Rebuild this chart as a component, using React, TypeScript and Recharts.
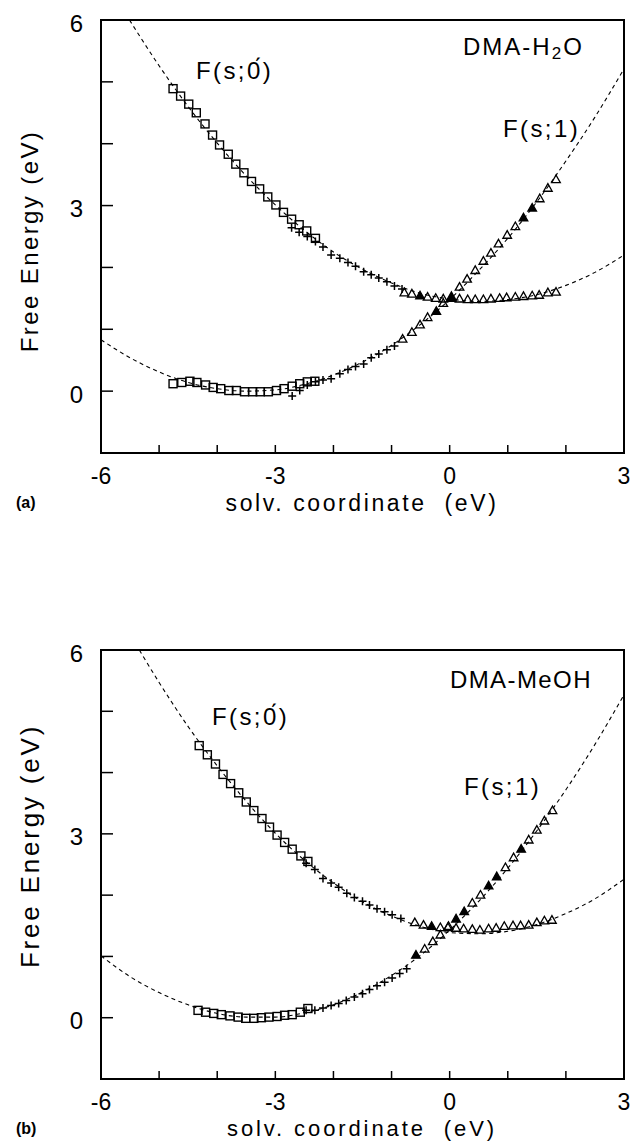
import React from 'react';
import { ComposedChart, Line, Scatter, XAxis, YAxis, ReferenceArea } from 'recharts';

type Pt = [number, number];

// ---- panel (a): DMA-H2O ----
const aCurve0: Pt[] = [
  [-5.51, 6.0], [-5.0, 5.26], [-4.5, 4.6], [-4.0, 4.01], [-3.5, 3.48], [-3.0, 3.01], [-2.5, 2.6],
  [-2.0, 2.25], [-1.5, 1.97], [-1.0, 1.75], [-0.5, 1.58], [0.0, 1.49], [0.5, 1.45], [1.0, 1.48],
  [1.5, 1.56], [2.0, 1.71], [2.5, 1.92], [3.0, 2.2],
];
const aCurve1: Pt[] = [
  [-6.0, 0.83], [-5.5, 0.54], [-5.0, 0.31], [-4.5, 0.14], [-4.0, 0.04], [-3.5, 0.0], [-3.0, 0.02],
  [-2.5, 0.11], [-2.0, 0.26], [-1.5, 0.47], [-1.0, 0.74], [-0.5, 1.08], [0.0, 1.48], [0.5, 1.95],
  [1.0, 2.47], [1.5, 3.06], [2.0, 3.72], [2.5, 4.43], [3.0, 5.21],
];
const aUpperSquares: Pt[] = [
  [-4.76, 4.89], [-4.63, 4.77], [-4.49, 4.64], [-4.36, 4.5], [-4.21, 4.32], [-4.08, 4.14], [-3.96, 3.98],
  [-3.81, 3.83], [-3.68, 3.67], [-3.54, 3.53], [-3.41, 3.39], [-3.27, 3.27], [-3.13, 3.14], [-2.99, 3.01],
  [-2.86, 2.89], [-2.72, 2.78], [-2.59, 2.69], [-2.46, 2.59], [-2.31, 2.47],
];
const aUpperCrosses: Pt[] = [
  [-2.72, 2.64], [-2.59, 2.57], [-2.45, 2.5], [-2.31, 2.42], [-2.18, 2.33], [-2.04, 2.2], [-1.89, 2.15],
  [-1.75, 2.08], [-1.62, 2.02], [-1.48, 1.93], [-1.35, 1.88], [-1.22, 1.83], [-1.08, 1.77], [-0.95, 1.7],
  [-0.82, 1.65],
];
const aUpperTri: Pt[] = [
  [-0.78, 1.59], [-0.65, 1.57], [-0.38, 1.52], [-0.24, 1.5], [-0.11, 1.49], [0.17, 1.49], [0.31, 1.48],
  [0.44, 1.48], [0.58, 1.48], [0.71, 1.49], [0.86, 1.5], [0.98, 1.51], [1.13, 1.52], [1.27, 1.53],
  [1.42, 1.54], [1.54, 1.55], [1.69, 1.59], [1.83, 1.6],
];
const aUpperTriFilled: Pt[] = [[-0.51, 1.54], [0.03, 1.5]];
const aRisingTri: Pt[] = [
  [-0.81, 0.84], [-0.65, 0.95], [-0.51, 1.07], [-0.38, 1.19], [-0.11, 1.42], [0.17, 1.68], [0.3, 1.81],
  [0.44, 1.95], [0.58, 2.1], [0.71, 2.23], [0.84, 2.38], [0.99, 2.52], [1.13, 2.66], [1.55, 3.11],
  [1.69, 3.28], [1.83, 3.42],
];
const aRisingTriFilled: Pt[] = [[-0.23, 1.29], [0.03, 1.53], [1.27, 2.8], [1.42, 2.96]];
const aLowerSquares: Pt[] = [
  [-4.76, 0.12], [-4.61, 0.14], [-4.47, 0.16], [-4.35, 0.14], [-4.2, 0.1], [-4.07, 0.06], [-3.94, 0.04],
  [-3.8, 0.01], [-3.67, 0.01], [-3.53, -0.01], [-3.39, -0.01], [-3.26, -0.01], [-3.12, -0.01], [-2.98, 0.01],
  [-2.85, 0.04], [-2.71, 0.08], [-2.58, 0.12], [-2.45, 0.15], [-2.32, 0.16],
];
const aLowerCrosses: Pt[] = [
  [-2.71, -0.08], [-2.58, 0.01], [-2.45, 0.1], [-2.31, 0.15], [-2.18, 0.18], [-2.04, 0.2], [-1.89, 0.28],
  [-1.75, 0.35], [-1.62, 0.4], [-1.48, 0.44], [-1.35, 0.54], [-1.22, 0.6], [-1.08, 0.67], [-0.95, 0.73],
];

// ---- panel (b): DMA-MeOH ----
const bCurve0: Pt[] = [
  [-5.34, 6.0], [-5.0, 5.47], [-4.5, 4.75], [-4.0, 4.11], [-3.5, 3.53], [-3.0, 3.01], [-2.5, 2.57],
  [-2.0, 2.2], [-1.5, 1.89], [-1.0, 1.66], [-0.5, 1.49], [0.0, 1.39], [0.5, 1.37], [1.0, 1.41],
  [1.5, 1.52], [2.0, 1.7], [2.5, 1.94], [3.0, 2.26],
];
const bCurve1: Pt[] = [
  [-6.0, 1.01], [-5.5, 0.67], [-5.0, 0.41], [-4.5, 0.21], [-4.0, 0.07], [-3.5, 0.01], [-3.0, 0.01],
  [-2.5, 0.08], [-2.0, 0.21], [-1.5, 0.42], [-1.0, 0.69], [-0.5, 1.02], [0.0, 1.43], [0.5, 1.9],
  [1.0, 2.44], [1.5, 3.05], [2.0, 3.72], [2.5, 4.46], [3.0, 5.27],
];
const bUpperSquares: Pt[] = [
  [-4.31, 4.44], [-4.17, 4.29], [-4.03, 4.14], [-3.9, 3.97], [-3.77, 3.82], [-3.63, 3.67], [-3.5, 3.52],
  [-3.37, 3.38], [-3.23, 3.25], [-3.1, 3.11], [-2.97, 2.98], [-2.84, 2.86], [-2.71, 2.75], [-2.56, 2.64],
  [-2.44, 2.55],
];
const bUpperCrosses: Pt[] = [
  [-2.47, 2.52], [-2.32, 2.42], [-2.18, 2.27], [-2.04, 2.2], [-1.91, 2.13], [-1.77, 2.03], [-1.64, 1.96],
  [-1.5, 1.9], [-1.38, 1.84], [-1.25, 1.78], [-1.12, 1.73], [-0.99, 1.68], [-0.84, 1.62],
];
const bUpperTri: Pt[] = [
  [-0.6, 1.55], [-0.45, 1.51], [-0.16, 1.47], [-0.03, 1.47], [0.11, 1.46], [0.24, 1.45], [0.39, 1.44],
  [0.52, 1.43], [0.67, 1.45], [0.8, 1.46], [0.94, 1.49], [1.09, 1.5], [1.22, 1.5], [1.36, 1.51],
  [1.5, 1.55], [1.63, 1.58], [1.76, 1.59],
];
const bUpperTriFilled: Pt[] = [[-0.31, 1.49]];
const bRisingTri: Pt[] = [
  [-0.43, 1.12], [-0.29, 1.24], [-0.16, 1.35], [-0.02, 1.49], [0.39, 1.87], [0.53, 2.0], [0.96, 2.45],
  [1.1, 2.61], [1.36, 2.9], [1.5, 3.06], [1.63, 3.21], [1.77, 3.38],
];
const bRisingTriFilled: Pt[] = [[-0.58, 1.02], [0.11, 1.61], [0.25, 1.73], [0.67, 2.15], [0.81, 2.3], [1.23, 2.75]];
const bLowerSquares: Pt[] = [
  [-4.33, 0.12], [-4.2, 0.09], [-4.06, 0.07], [-3.93, 0.05], [-3.78, 0.03], [-3.64, 0.01], [-3.51, -0.01],
  [-3.37, -0.01], [-3.24, 0.0], [-3.11, 0.01], [-2.97, 0.02], [-2.84, 0.04], [-2.71, 0.05], [-2.57, 0.09],
  [-2.44, 0.15],
];
const bLowerCrosses: Pt[] = [
  [-2.47, 0.12], [-2.32, 0.12], [-2.18, 0.16], [-2.04, 0.2], [-1.91, 0.23], [-1.78, 0.28], [-1.64, 0.34],
  [-1.5, 0.39], [-1.38, 0.46], [-1.25, 0.52], [-1.12, 0.58], [-0.99, 0.65], [-0.86, 0.72], [-0.74, 0.8],
];

// ---- axes ----
const xTicks = [-6, -5, -4, -3, -2, -1, 0, 1, 2, 3];
const xTickLabels = [-6, -3, 0, 3];
const yTicks = [-1, 0, 1, 2, 3, 4, 5, 6];
const yTickLabels = [0, 3, 6];

const FONT = '"Liberation Sans", Arial, sans-serif';
const toObj = (pts: Pt[]) => pts.map(([x, y]) => ({ x, y }));

const XTick = (props: any) => {
  const { x, y, payload } = props;
  const v = payload.value;
  return (
    <g>
      <line x1={x} x2={x} y1={y} y2={y - 8} stroke="#000" strokeWidth={1.5} />
      {xTickLabels.includes(v) && (
        <text x={x} y={y + 23} textAnchor="middle" dominantBaseline="central" fontSize={23} fontFamily={FONT} fill="#000">
          {v < 0 ? `-${Math.abs(v)}` : v}
        </text>
      )}
    </g>
  );
};

const YTick = (props: any) => {
  const { x, y, payload } = props;
  const v = payload.value;
  return (
    <g>
      <line x1={x} x2={x + 12} y1={y} y2={y} stroke="#000" strokeWidth={1.5} />
      {yTickLabels.includes(v) && (
        <text x={x - 18} y={y + 3} textAnchor="end" dominantBaseline="central" fontSize={24} fontFamily={FONT} fill="#000">
          {v}
        </text>
      )}
    </g>
  );
};

const Square = (p: any) => (
  <rect x={p.cx - 4} y={p.cy - 4} width={8} height={8} fill="none" stroke="#000" strokeWidth={1.4} />
);
const Cross = (p: any) => (
  <path d={`M${p.cx - 4},${p.cy}H${p.cx + 4}M${p.cx},${p.cy - 4}V${p.cy + 4}`} stroke="#000" strokeWidth={1.5} />
);
const triPath = (cx: number, cy: number) => `M${cx},${cy - 4.6}L${cx + 4.3},${cy + 3}L${cx - 4.3},${cy + 3}Z`;
const TriOpen = (p: any) => <path d={triPath(p.cx, p.cy)} fill="none" stroke="#000" strokeWidth={1.3} />;
const TriFilled = (p: any) => <path d={triPath(p.cx, p.cy)} fill="#000" stroke="#000" strokeWidth={1.3} />;

interface PanelData {
  curve0: Pt[];
  curve1: Pt[];
  upperSquares: Pt[];
  upperCrosses: Pt[];
  upperTri: Pt[];
  upperTriFilled: Pt[];
  risingTri: Pt[];
  risingTriFilled: Pt[];
  lowerSquares: Pt[];
  lowerCrosses: Pt[];
}

function Panel({ d, height, marginBottom }: { d: PanelData; height: number; marginBottom: number }) {
  const series: [Pt[], (p: any) => React.ReactElement][] = [
    [d.upperSquares, Square],
    [d.lowerSquares, Square],
    [d.upperCrosses, Cross],
    [d.lowerCrosses, Cross],
    [d.upperTri, TriOpen],
    [d.risingTri, TriOpen],
    [d.upperTriFilled, TriFilled],
    [d.risingTriFilled, TriFilled],
  ];
  return (
    <ComposedChart width={635} height={height} margin={{ top: 20, right: 11, bottom: marginBottom, left: 41 }}>
      <XAxis
        type="number"
        dataKey="x"
        domain={[-6, 3]}
        ticks={xTicks}
        interval={0}
        allowDataOverflow
        height={60}
        axisLine={false}
        tickLine={false}
        tickSize={0}
        tickMargin={0}
        tick={<XTick />}
      />
      <YAxis
        type="number"
        dataKey="y"
        domain={[-1, 6]}
        ticks={yTicks}
        interval={0}
        allowDataOverflow
        width={60}
        axisLine={false}
        tickLine={false}
        tickSize={0}
        tickMargin={0}
        tick={<YTick />}
      />
      <ReferenceArea x1={-6} x2={3} y1={-1} y2={6} fill="none" stroke="#000" strokeWidth={2} ifOverflow="visible" />
      {[d.curve0, d.curve1].map((c, i) => (
        <Line
          key={`c${i}`}
          data={toObj(c)}
          dataKey="y"
          type="monotone"
          stroke="#000"
          strokeWidth={1.1}
          strokeDasharray="4 3.5"
          dot={false}
          activeDot={false}
          isAnimationActive={false}
        />
      ))}
      {series.map(([pts, shape], i) => (
        <Scatter key={`s${i}`} data={toObj(pts)} dataKey="y" shape={shape} isAnimationActive={false} />
      ))}
    </ComposedChart>
  );
}

const abs = (left: number, top: number, extra: React.CSSProperties = {}): React.CSSProperties => ({
  position: 'absolute',
  left,
  top,
  fontFamily: FONT,
  color: '#000',
  whiteSpace: 'nowrap',
  lineHeight: 1,
  ...extra,
});

const F0 = 'F(s;0\u0301)';

export default function App() {
  const panelA: PanelData = {
    curve0: aCurve0, curve1: aCurve1, upperSquares: aUpperSquares, upperCrosses: aUpperCrosses,
    upperTri: aUpperTri, upperTriFilled: aUpperTriFilled, risingTri: aRisingTri, risingTriFilled: aRisingTriFilled,
    lowerSquares: aLowerSquares, lowerCrosses: aLowerCrosses,
  };
  const panelB: PanelData = {
    curve0: bCurve0, curve1: bCurve1, upperSquares: bUpperSquares, upperCrosses: bUpperCrosses,
    upperTri: bUpperTri, upperTriFilled: bUpperTriFilled, risingTri: bRisingTri, risingTriFilled: bRisingTriFilled,
    lowerSquares: bLowerSquares, lowerCrosses: bLowerCrosses,
  };
  const center = { transform: 'translate(-50%, -50%)' };
  const midY = { transform: 'translateY(-50%)' };
  return (
    <div style={{ position: 'absolute', left: 0, top: 0, width: 635, height: 1141, background: '#fff', overflow: 'hidden' }}>
      <div style={{ position: 'absolute', left: 0, top: 0 }}>
        <Panel d={panelA} height={530} marginBottom={17} />
      </div>
      <div style={{ position: 'absolute', left: 0, top: 630 }}>
        <Panel d={panelB} height={520} marginBottom={11} />
      </div>

      {/* panel (a) text */}
      <div style={abs(30, 241, { fontSize: 24, letterSpacing: 2.4, transform: 'translate(-50%, -50%) rotate(-90deg)' })}>
        Free Energy (eV)
      </div>
      <div style={abs(362, 503, { fontSize: 23, letterSpacing: 2.6, ...center })}>solv. coordinate&nbsp;&nbsp;(eV)</div>
      <div style={abs(16, 503, { fontSize: 16, fontWeight: 'bold', ...midY })}>(a)</div>
      <div style={abs(463, 48, { fontSize: 24, letterSpacing: 2, ...midY })}>
        DMA-H<sub style={{ fontSize: 17, verticalAlign: -4 }}>2</sub>O
      </div>
      <div style={abs(196, 71, { fontSize: 24, letterSpacing: 2.4, ...midY })}>{F0}</div>
      <div style={abs(503, 129, { fontSize: 24, letterSpacing: 2.4, ...midY })}>F(s;1)</div>

      {/* panel (b) text */}
      <div style={abs(30, 846, { fontSize: 26, letterSpacing: 2.8, transform: 'translate(-50%, -50%) rotate(-90deg)' })}>
        Free Energy (eV)
      </div>
      <div style={abs(362, 1129, { fontSize: 22, letterSpacing: 2.9, ...center })}>solv. coordinate&nbsp;&nbsp;(eV)</div>
      <div style={abs(16, 1129, { fontSize: 16, fontWeight: 'bold', ...midY })}>(b)</div>
      <div style={abs(450, 680, { fontSize: 24, letterSpacing: 1.4, ...midY })}>DMA-MeOH</div>
      <div style={abs(212, 717, { fontSize: 24, letterSpacing: 2.4, ...midY })}>{F0}</div>
      <div style={abs(464, 787, { fontSize: 24, letterSpacing: 2.4, ...midY })}>F(s;1)</div>
    </div>
  );
}
